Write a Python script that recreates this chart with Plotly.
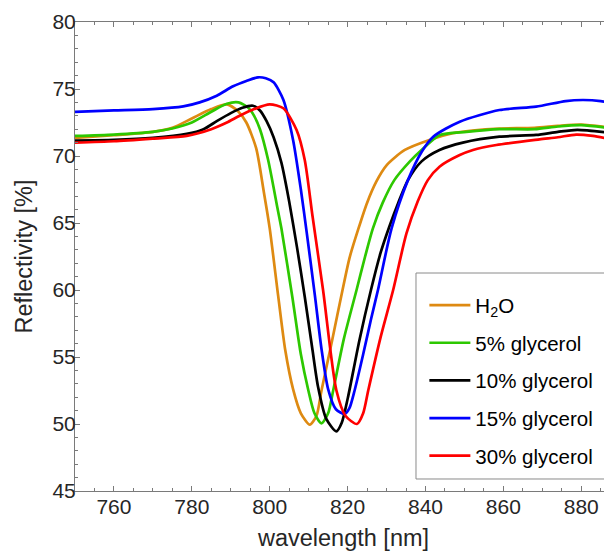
import plotly.graph_objects as go

# ---- data ----
names = ["H<sub>2</sub>O", "5% glycerol", "10% glycerol", "15% glycerol", "30% glycerol"]
colors = ["#DE8A12", "#2DC800", "#000000", "#0000FF", "#FF0000"]

wl_h2o = [750, 760, 770, 775, 780, 785, 789, 792, 794, 796.5, 798.5, 800, 802.2, 804, 806, 808, 810.3,
          812, 813.3, 816, 818.7, 820.5, 822.7, 825, 827.4, 830, 834.7, 841, 847, 852, 859, 868, 874, 880, 888]
r_h2o = [71.35, 71.55, 71.8, 72.1, 72.8, 73.5, 73.85, 73.3, 72.5, 70.6, 67.3, 64.6, 59.5, 55.5, 52.6, 50.8, 49.95,
         50.6, 52.5, 56.2, 60.0, 62.4, 64.5, 66.5, 68.1, 69.3, 70.45, 71.2, 71.7, 71.9, 72.05, 72.1, 72.25, 72.35, 72.1]

wl_g5 = [750, 760, 770, 775, 780, 785, 789, 792, 794.5, 796, 797.5, 799.6, 802, 803, 805.8, 808, 809.9, 811.5,
         813.3, 815, 816.3, 819, 822.3, 824.5, 826.5, 829, 832, 836, 839, 843.6, 850.5, 859, 868, 874, 880, 888]
r_g5 = [71.5, 71.6, 71.8, 72.05, 72.5, 73.3, 73.9, 74.0, 73.6, 73.0, 72.0, 69.7, 66.1, 64.6, 59.5, 55.2, 52.54, 50.8,
        50.05, 50.8, 52.5, 56.3, 60.0, 62.5, 64.6, 66.5, 68.2, 69.6, 70.45, 71.55, 71.8, 72.0, 72.0, 72.2, 72.3, 72.05]

wl_g10 = [750, 760, 770, 778.7, 783, 786.4, 790, 793, 795.7, 797.5, 799.2, 801, 803, 805, 807, 809, 811, 812.4,
          814.5, 817.1, 818.5, 820.1, 823, 826, 828.5, 830.8, 833, 835.5, 839, 843.6, 849.6, 859, 868.4, 874, 879, 888]
r_g10 = [71.15, 71.2, 71.35, 71.65, 72.0, 72.6, 73.2, 73.6, 73.75, 73.4, 72.6, 71.4, 69.5, 66.6, 63.2, 59.5, 55.5,
         52.8, 50.4, 49.45, 50.1, 52.0, 56.2, 60.0, 62.8, 64.8, 66.5, 68.2, 69.6, 70.45, 71.0, 71.44, 71.57, 71.8,
         71.95, 71.7]

wl_g15 = [750, 760, 770, 777.8, 782, 786.4, 790.6, 794, 797, 799, 801, 803.5, 806, 808, 809.5, 811.6, 813.3, 815,
          817, 819.3, 820.5, 821.8, 824, 826, 827.8, 831.3, 835.5, 839, 842, 848.8, 859, 868.4, 876, 880.4, 885, 888]
r_g15 = [73.3, 73.4, 73.5, 73.7, 74.0, 74.5, 75.2, 75.6, 75.87, 75.8, 75.5, 74.2, 71.2, 67.5, 64.3, 59.6, 55.6, 52.6,
         51.1, 50.75, 51.2, 52.5, 55.2, 57.8, 60.0, 64.6, 68.2, 70.3, 71.44, 72.56, 73.43, 73.68, 74.1, 74.18, 74.1,
         73.93]

wl_g30 = [750, 760, 770, 778.7, 785, 789, 792.3, 796, 800, 803.5, 806.9, 809, 811, 813.7, 817.1, 819.5, 822.4,
          824, 825.3, 828.5, 831.7, 835.1, 838, 840.6, 843.6, 848.8, 852.2, 858.2, 869.3, 874, 878.7, 883, 888]
r_g30 = [71.0, 71.1, 71.3, 71.5, 72.0, 72.5, 73.0, 73.5, 73.85, 73.56, 71.94, 69.7, 65.5, 60.0, 52.54, 50.6, 50.0,
         50.8, 52.5, 56.5, 60.0, 64.2, 66.6, 68.2, 69.2, 70.07, 70.45, 70.82, 71.24, 71.4, 71.6, 71.5, 71.24]

series_x = [wl_h2o, wl_g5, wl_g10, wl_g15, wl_g30]
series_y = [r_h2o, r_g5, r_g10, r_g15, r_g30]

x_ticks = [760, 780, 800, 820, 840, 860, 880]
y_ticks = [45, 50, 55, 60, 65, 70, 75, 80]

FONT = "Liberation Sans, Arial, Helvetica, sans-serif"
AXIS_GREY = "#7a7a7a"

fig = go.Figure()
for i, (nm, c, xs, ys) in enumerate(zip(names, colors, series_x, series_y)):
    fig.add_trace(go.Scatter(x=xs, y=ys, mode="lines", name=nm, legendgroup=f"g{i}",
                             line=dict(color=c, width=2.7, shape="spline", smoothing=0.7)))

# legend frame (layout decoration, paper coordinates)
fig.add_shape(type="rect", xref="paper", yref="paper", x0=0.635, x1=0.9935, y0=0.0256, y1=0.4648,
              line=dict(color="#8a8a8a", width=1), fillcolor="white", layer="above")

# the page body has an 8px margin, so the figure is sized to end at the window edge
fig.update_layout(
    width=604, height=544,
    margin=dict(l=67, r=0, t=14, b=61),
    paper_bgcolor="white", plot_bgcolor="white",
    font=dict(family=FONT, color="#262626"),
    showlegend=True,
    legend=dict(x=0.6506, y=0.4386, xanchor="left", yanchor="top",
                borderwidth=0, bgcolor="rgba(0,0,0,0)", itemwidth=41,
                font=dict(size=20.5, family=FONT, color="#000000"),
                tracegroupgap=8, traceorder="grouped"),
)
fig.update_xaxes(range=[750, 887.9], tickvals=x_ticks, ticks="inside", ticklen=5, tickcolor=AXIS_GREY,
                 showline=True, linecolor=AXIS_GREY, linewidth=1, mirror="ticks", showgrid=False, zeroline=False,
                 automargin=False, ticklabelstandoff=-3,
                 tickfont=dict(size=21), title=dict(text="wavelength [nm]", font=dict(size=23.5), standoff=12),
                 minor=dict(ticks="inside", ticklen=3, dtick=5, tick0=750, tickcolor=AXIS_GREY, showgrid=False))
fig.update_yaxes(range=[45, 80], tickvals=y_ticks, ticks="inside", ticklen=5, tickcolor=AXIS_GREY,
                 showline=True, linecolor=AXIS_GREY, linewidth=1, mirror=False, showgrid=False, zeroline=False,
                 automargin=False, ticklabelstandoff=-6,
                 tickfont=dict(size=21), title=dict(text="Reflectivity [%]", font=dict(size=23.5), standoff=13),
                 minor=dict(ticks="inside", ticklen=3, dtick=1, tick0=45, tickcolor=AXIS_GREY, showgrid=False))

fig.write_html("out.html")
